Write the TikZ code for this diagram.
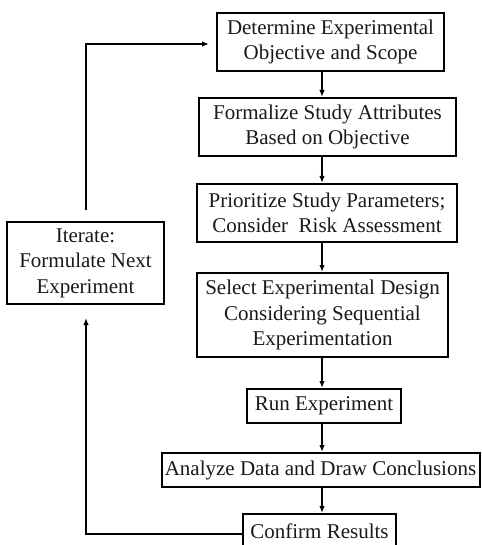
\documentclass[tikz,border=0pt]{standalone}
\usepackage{fontspec}
\setmainfont{Liberation Serif}
\usetikzlibrary{arrows.meta}
\tikzset{
  stepbox/.style={draw=black, line width=2pt, inner sep=0pt, align=center,
    font=\fontsize{21}{25.5}\selectfont, text=black!90},
  conn/.style={line width=1.5pt, -{Latex[length=7pt,width=5.5pt]}},
  plain/.style={line width=1.5pt}
}
\begin{document}
\begin{tikzpicture}[x=1pt,y=-1pt]
\useasboundingbox (0,0) rectangle (481,545);
\node[stepbox, minimum width=227pt, minimum height=58pt] (b1) at (330.5,42) {Determine Experimental\\Objective and Scope};
\node[stepbox, minimum width=257pt, minimum height=58pt] (b2) at (327.5,127) {Formalize Study Attributes\\Based on Objective};
\node[stepbox, minimum width=260pt, minimum height=58pt] (b3) at (327,213) {Prioritize Study Parameters;\\Consider\ \ Risk Assessment};
\node[stepbox, minimum width=251pt, minimum height=84pt] (b4) at (322.5,315) {Select Experimental Design\\Considering Sequential\\Experimentation};
\node[stepbox, minimum width=154pt, minimum height=34pt] (b5) at (324,406) {Run Experiment};
\node[stepbox, minimum width=318pt, minimum height=34pt] (b6) at (320.5,470) {Analyze Data and Draw Conclusions};
\node[stepbox, minimum width=153pt, minimum height=34pt] (b7) at (319.5,531) {Confirm Results};
\node[stepbox, minimum width=157pt, minimum height=82pt] (it) at (85.5,263) {Iterate:\\Formulate Next\\Experiment};

\coordinate (c1) at (322,71);
\draw[conn] (c1) -- (c1 |- b2.north);
\coordinate (c2) at (322,156);
\draw[conn] (c2) -- (c2 |- b3.north);
\coordinate (c3) at (322,242);
\draw[conn] (c3) -- (c3 |- b4.north);
\coordinate (c4) at (322,357);
\draw[conn] (c4) -- (c4 |- b5.north);
\coordinate (c5) at (322,423);
\draw[conn] (c5) -- (c5 |- b6.north);
\coordinate (c6) at (322,487);
\draw[conn] (c6) -- (c6 |- b7.north);

\coordinate (fb) at (243,534);
\coordinate (lc) at (86,534);
\draw[conn, shorten >=13pt] (fb) -- (lc) -- (lc |- it.south);
\coordinate (tp) at (86,44);
\draw[conn, shorten <=11pt, shorten >=7pt] (tp |- it.north) -- (tp) -- (tp -| b1.west);
\end{tikzpicture}
\end{document}
